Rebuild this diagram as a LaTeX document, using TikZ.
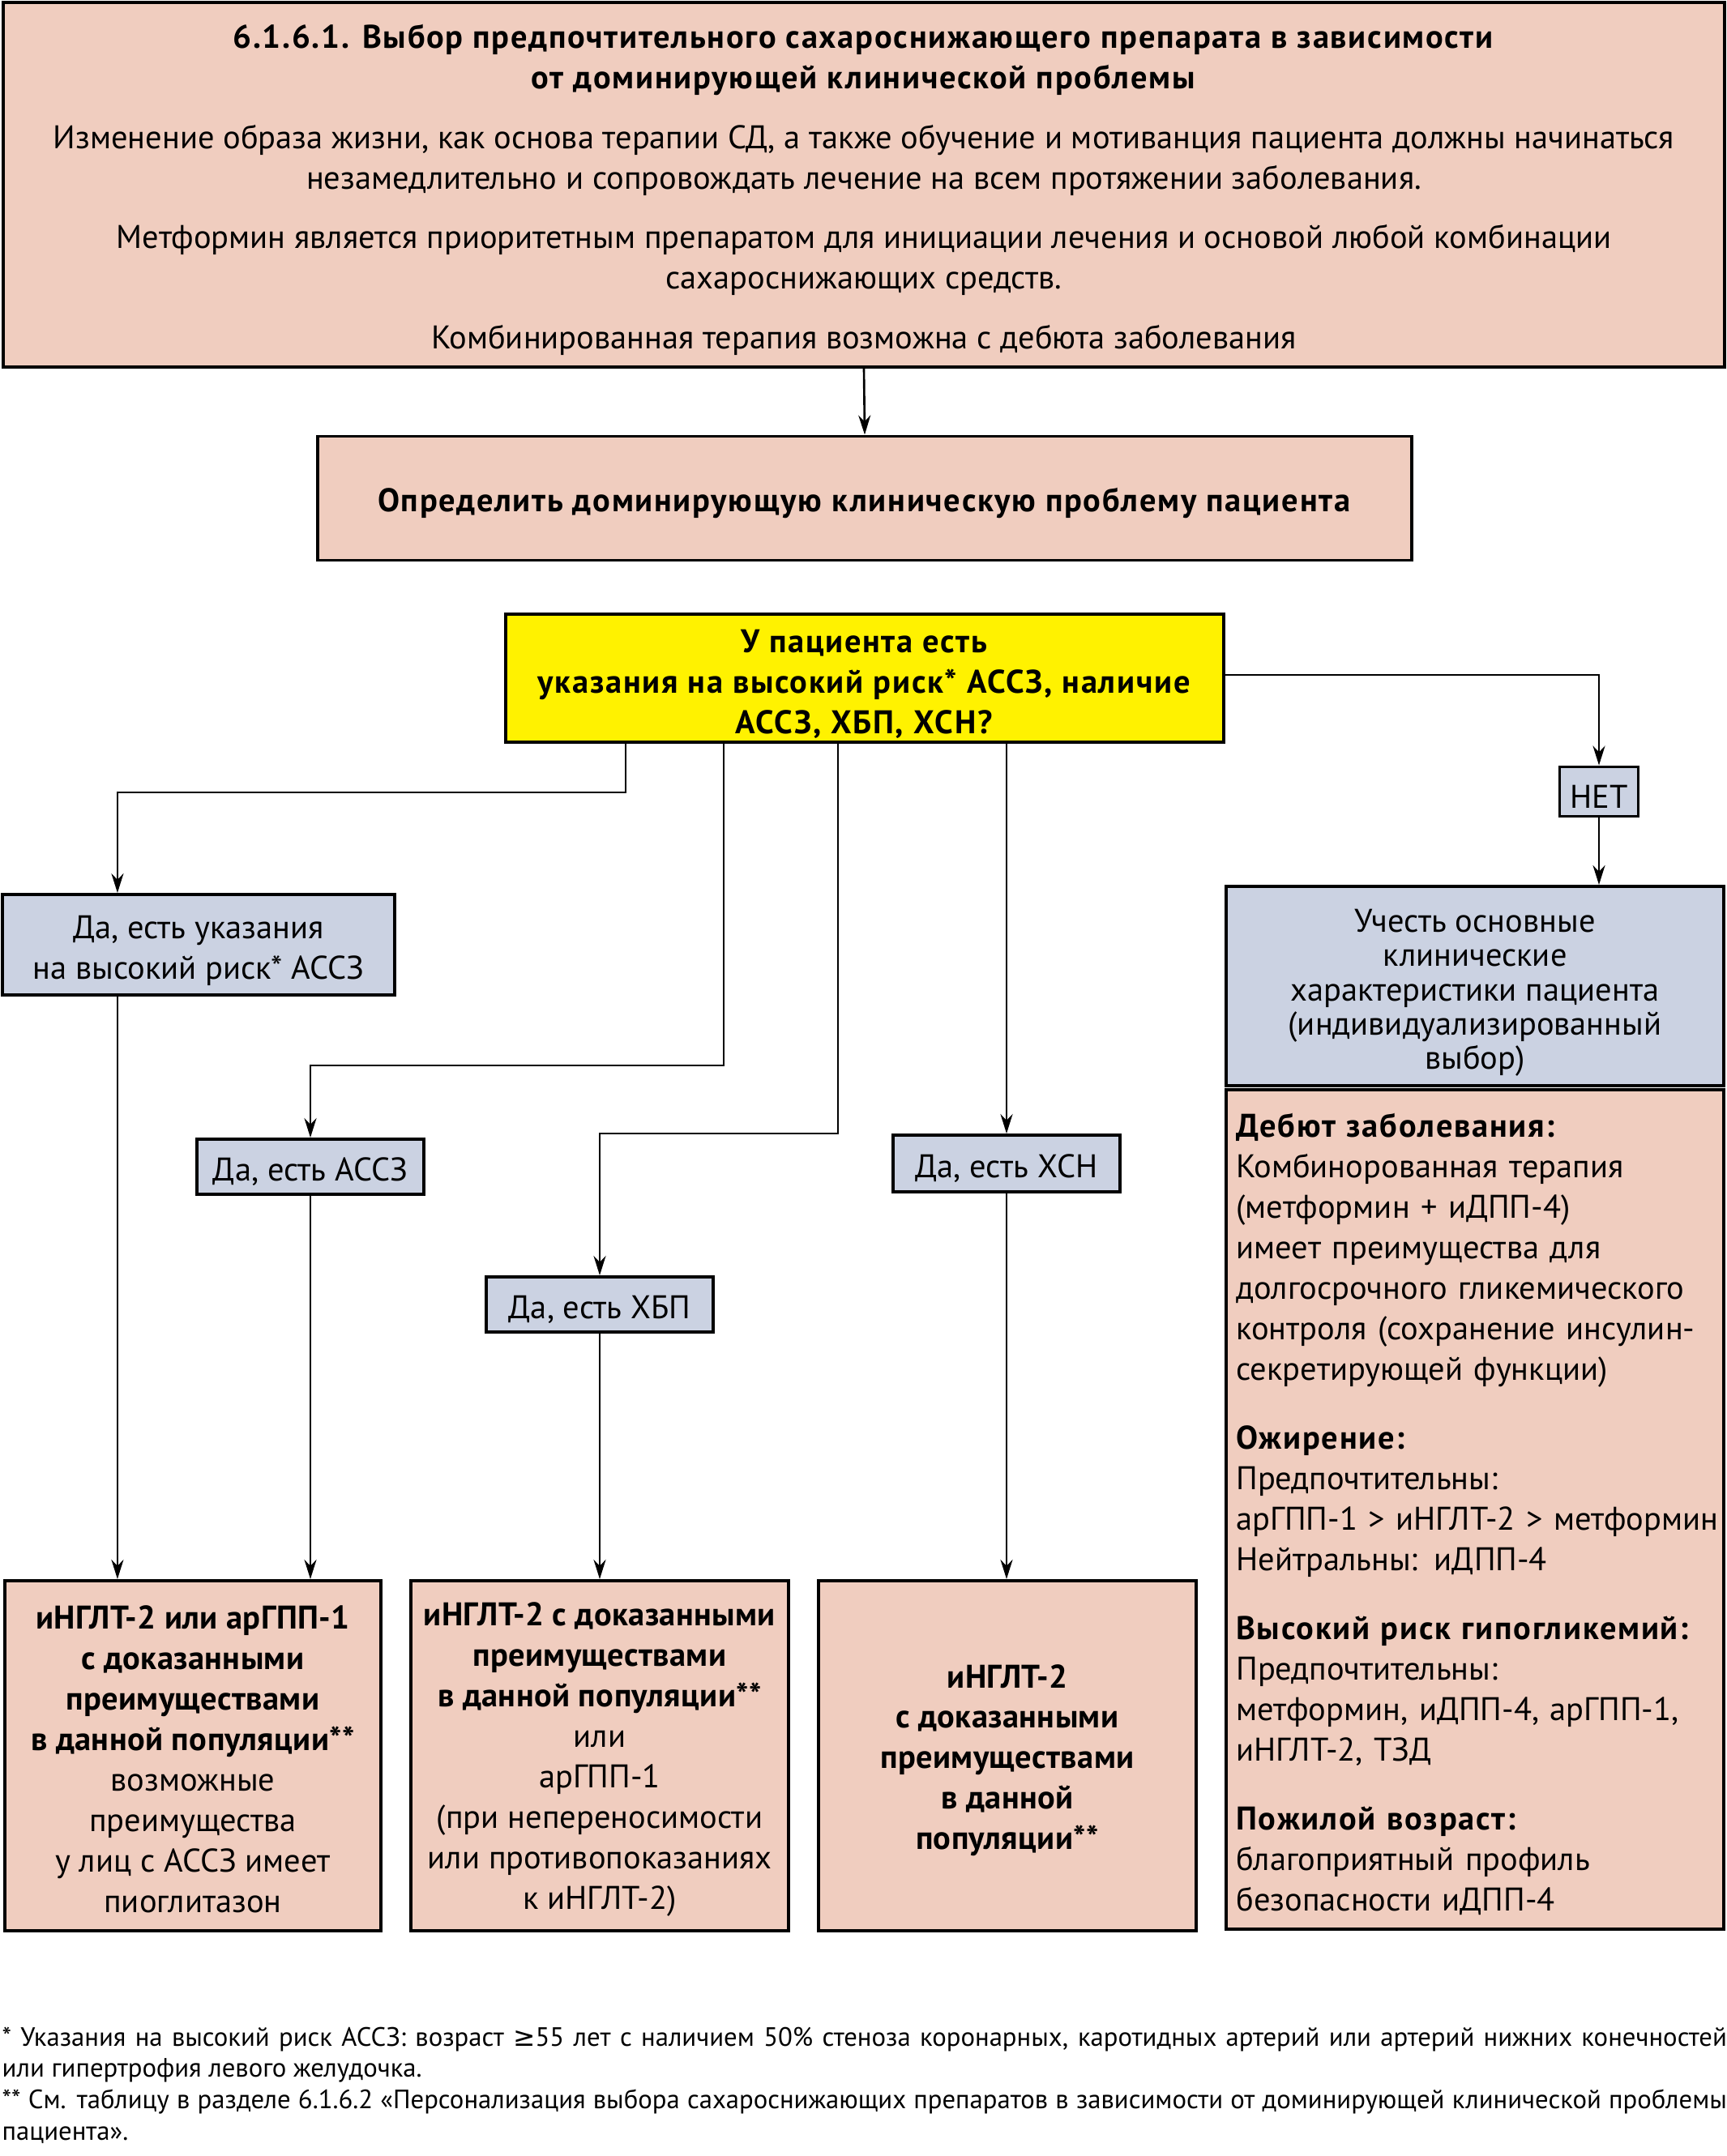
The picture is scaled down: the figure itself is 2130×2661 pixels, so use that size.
\documentclass[tikz,border=0pt]{standalone}
\usepackage{fontspec}
\setmainfont{PT Sans}[BoldFeatures={LetterSpace=4.3}]
\newfontfamily\resfont{PT Sans}[BoldFeatures={LetterSpace=1.0}]
\newfontfamily\symfont{DejaVu Sans}
\usetikzlibrary{arrows.meta}

\definecolor{pinkfill}{RGB}{240,205,191}
\definecolor{bluefill}{RGB}{203,210,226}
\definecolor{qyellow}{RGB}{255,242,0}

% strut for the first line of a box
\newcommand\topline[1][12pt]{\rule{0pt}{#1}}

\tikzset{
  box/.style={draw, line width=1.1pt, inner sep=0pt, align=center,
    font=\fontsize{11.5}{14.2}\selectfont,
    execute at begin node={\rule{0pt}{11.6pt}}},
  pinkbox/.style={box, fill=pinkfill},
  bluebox/.style={box, fill=bluefill},
  resbox/.style={pinkbox, minimum height=4.32cm,
    font=\resfont\fontsize{11.5}{14.2}\selectfont},
  arr/.style={-{Stealth[length=2.4mm,width=1.5mm]}, line width=0.75pt}
}

\begin{document}
\begin{tikzpicture}[x=0.01cm, y=-0.01cm]
\useasboundingbox (0,0) rectangle (2130,2661);
%\draw [help lines, step=100] (0,0) grid (2130,2661);

% top of the chart
\node [pinkbox, minimum width=21.22cm, minimum height=4.50cm] (intro) at (1066,228)
  {\topline\textbf{6.1.6.1. Выбор предпочтительного сахароснижающего препарата в зависимости}\\
   \textbf{от доминирующей клинической проблемы}\\[6.8pt]
   Изменение образа жизни, как основа терапии СД, а также обучение и мотиванция пациента должны начинаться\\
   незамедлительно и сопровождать лечение на всем протяжении заболевания.\\[6.8pt]
   Метформин является приоритетным препаратом для инициации лечения и основой любой комбинации\\
   сахароснижающих средств.\\[6.8pt]
   Комбинированная терапия возможна с дебюта заболевания};

\node [pinkbox, minimum width=13.50cm, minimum height=1.53cm] (define) at (1067,615)
  {\textbf{Определить доминирующую клиническую проблему пациента}};

\node [box, fill=qyellow, minimum width=8.85cm, minimum height=1.58cm] (q) at (1067,837)
  {\topline\textbf{У пациента есть}\\
   \textbf{указания на высокий риск* АССЗ, наличие}\\
   \textbf{АССЗ, ХБП, ХСН?}};

\draw [arr] (intro.south) -- (define.north);

% yes branches
\node [bluebox, minimum width=4.84cm, minimum height=1.24cm] (risk) at (245,1166)
  {\topline Да, есть указания\\ на высокий риск* АССЗ};
\node [bluebox, minimum width=2.79cm, minimum height=0.68cm] (ascvd) at (383,1440)
  {Да, есть АССЗ};
\node [bluebox, minimum width=2.79cm, minimum height=0.68cm] (ckd) at (740,1610)
  {Да, есть ХБП};
\node [bluebox, minimum width=2.80cm, minimum height=0.70cm] (chf) at (1242,1436)
  {Да, есть ХСН};

\draw [arr] ([xshift=-2.95cm]q.south) |- ([xshift=-1cm, yshift=1.24cm]risk.north) -- ([xshift=-1cm]risk.north);
\draw [arr] ([xshift=-1.74cm]q.south) |- ([yshift=0.89cm]ascvd.north) -- (ascvd.north);
\draw [arr] ([xshift=-0.33cm]q.south) |- ([yshift=1.75cm]ckd.north) -- (ckd.north);
\draw [arr] (q.south -| chf.north) -- (chf.north);

% no branch
\node [bluebox, minimum width=0.97cm, minimum height=0.61cm] (no) at (1973,977) {НЕТ};
\node [bluebox, minimum width=6.14cm, minimum height=2.46cm,
       font=\fontsize{11.5}{12}\selectfont] (indiv) at (1820,1217)
  {\topline[12.8pt]Учесть основные\\ клинические\\ характеристики пациента\\ (индивидуализированный\\ выбор)};

\draw [arr] ([yshift=0.04cm]q.east) -| (no.north);
\draw [arr] (no.south) -- (no.south |- indiv.north);

\node [pinkbox, minimum width=6.13cm, minimum height=10.36cm, align=left,
       text width=5.89cm] (traits) at (1820,1863)
  {\textbf{Дебют заболевания:}\\
   Комбинорованная терапия\\
   (метформин + иДПП-4)\\
   имеет преимущества для\\
   долгосрочного гликемического\\
   контроля (сохранение инсулин-\\
   секретирующей функции)\\[10pt]
   \textbf{Ожирение:}\\
   Предпочтительны:\\
   \mbox{арГПП-1 > иНГЛТ-2 > метформин}\\
   Нейтральны: иДПП-4\\[10pt]
   \textbf{Высокий риск гипогликемий:}\\
   Предпочтительны:\\
   метформин, иДПП-4, арГПП-1,\\
   иНГЛТ-2, ТЗД\\[10pt]
   \textbf{Пожилой возраст:}\\
   благоприятный профиль\\
   безопасности иДПП-4};

% results
\node [resbox, minimum width=4.63cm] (res1) at (238,2167)
  {\topline[10.8pt]\textbf{иНГЛТ-2 или арГПП-1}\\
   \textbf{с доказанными}\\
   \textbf{преимуществами}\\
   \textbf{в данной популяции**}\\
   возможные\\ преимущества\\ у лиц с АССЗ имеет\\ пиоглитазон};
\node [resbox, minimum width=4.66cm] (res2) at (740,2167)
  {\topline[10.8pt]\textbf{иНГЛТ-2 с доказанными}\\
   \textbf{преимуществами}\\
   \textbf{в данной популяции**}\\
   или\\ арГПП-1\\ (при непереносимости\\ или противопоказаниях\\ к иНГЛТ-2)};
\node [resbox, minimum width=4.65cm] (res3) at (1243,2167)
  {\topline[11.4pt]\textbf{иНГЛТ-2}\\ \textbf{с доказанными}\\ \textbf{преимуществами}\\
   \textbf{в данной}\\ \textbf{популяции**}};

\draw [arr] ([xshift=-1cm]risk.south) -- ([xshift=-1cm]risk.south |- res1.north);
\draw [arr] (ascvd.south) -- (ascvd.south |- res1.north);
\draw [arr] (ckd.south) -- (ckd.south |- res2.north);
\draw [arr] (chf.south) -- (chf.south |- res3.north);

% footnotes
\node [anchor=north west, inner sep=0pt, align=justify, text width=21.27cm,
       font=\fontsize{9.3}{11}\selectfont] (fn1) at (2,2501)
  {* Указания на высокий риск АССЗ: возраст {\symfont ≥}55 лет с наличием 50\% стеноза коронарных, каротидных артерий или артерий нижних конечностей\linebreak
   или гипертрофия левого желудочка.\par
   ** См. таблицу в разделе 6.1.6.2 «Персонализация выбора сахароснижающих препаратов в зависимости от доминирующей клинической проблемы\linebreak
   пациента».};

\end{tikzpicture}
\end{document}
